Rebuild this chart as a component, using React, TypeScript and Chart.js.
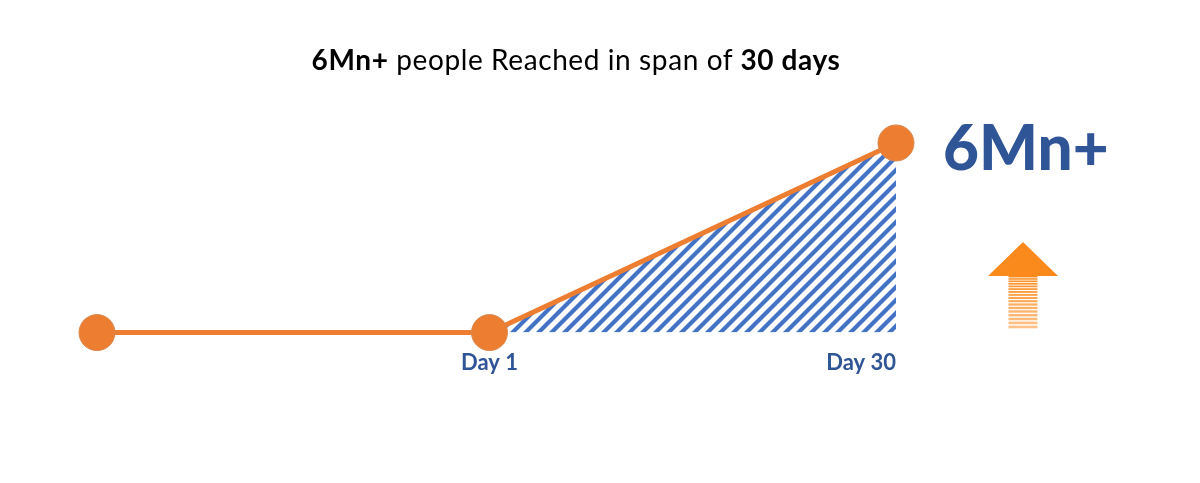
import React, { useEffect, useRef } from "react";
import { Chart, registerables } from "chart.js";

Chart.register(...registerables);

// ---- data ----
const dayPositions = [-27, 1, 30];
const reachMillions = [0, 0, 6];
const tickLabels = ["", "Day 1", "Day 30"];
const hatchDays = [1, 30];
const hatchReach = [0, 6];

const ORANGE = "#ED7D31";
const BLUE_TEXT = "#2F5597";
const HATCH_BLUE = "#4472C4";
const ARROW = "#FB8A1C";

function makeHatch(ctx: CanvasRenderingContext2D): CanvasPattern | string {
  const s = 13;
  const c = document.createElement("canvas");
  c.width = s;
  c.height = s;
  const g = c.getContext("2d");
  if (!g) return HATCH_BLUE;
  g.strokeStyle = HATCH_BLUE;
  g.lineWidth = 4.2;
  g.beginPath();
  g.moveTo(0, s);
  g.lineTo(s, 0);
  g.moveTo(-s / 2, s / 2);
  g.lineTo(s / 2, -s / 2);
  g.moveTo(s / 2, s * 1.5);
  g.lineTo(s * 1.5, s / 2);
  g.stroke();
  return ctx.createPattern(c, "repeat") || HATCH_BLUE;
}

const arrowPlugin = {
  id: "upArrow",
  afterDraw(chart: any) {
    const ctx: CanvasRenderingContext2D = chart.ctx;
    const cx = chart.chartArea.right + 127;
    const apexY = 242;
    const baseY = 276;
    const halfHead = 35;
    const halfShaft = 14.5;
    const bottomY = 327;
    ctx.save();
    ctx.fillStyle = ARROW;
    ctx.beginPath();
    ctx.moveTo(cx, apexY);
    ctx.lineTo(cx + halfHead, baseY);
    ctx.lineTo(cx - halfHead, baseY);
    ctx.closePath();
    ctx.fill();
    // striped, fading shaft
    let y = baseY;
    let step = 2.2;
    let alpha = 1;
    while (y < bottomY) {
      const h = Math.max(0.9, step * 0.65);
      ctx.globalAlpha = alpha;
      ctx.fillRect(cx - halfShaft, y, halfShaft * 2, h);
      y += step;
      step += 0.12;
      alpha = Math.max(0.35, alpha - 0.03);
    }
    ctx.restore();
  },
};

export default function App() {
  const canvasRef = useRef<HTMLCanvasElement | null>(null);

  useEffect(() => {
    const canvas = canvasRef.current;
    if (!canvas) return;
    const ctx = canvas.getContext("2d");
    if (!ctx) return;
    const hatch = makeHatch(ctx);

    const chart = new Chart(canvas, {
      type: "line",
      data: {
        datasets: [
          {
            label: "Reach",
            data: dayPositions.map((x, i) => ({ x, y: reachMillions[i] })),
            borderColor: ORANGE,
            borderWidth: 5,
            pointRadius: 18,
            pointBackgroundColor: ORANGE,
            pointBorderColor: "#D8894F",
            pointBorderWidth: 1,
            tension: 0,
            fill: false,
            clip: false,
            order: 0,
          },
          {
            label: "Area",
            data: hatchDays.map((x, i) => ({ x, y: hatchReach[i] })),
            borderWidth: 0,
            borderColor: "rgba(0,0,0,0)",
            backgroundColor: hatch as any,
            pointRadius: 0,
            fill: "origin",
            tension: 0,
            clip: false,
            order: 1,
          },
        ],
      },
      options: {
        animation: false,
        responsive: true,
        maintainAspectRatio: false,
        layout: { padding: { top: 143, left: 97, right: 304, bottom: 90 } },
        plugins: {
          legend: { display: false },
          tooltip: { enabled: false },
          title: { display: false },
        },
        scales: {
          x: {
            type: "linear",
            min: dayPositions[0],
            max: dayPositions[dayPositions.length - 1],
            grid: { display: false, drawTicks: false },
            border: { display: false },
            afterBuildTicks: (scale: any) => {
              scale.ticks = dayPositions.map((v) => ({ value: v }));
            },
            ticks: {
              align: "inner",
              padding: 17,
              color: BLUE_TEXT,
              font: { family: "Lato", size: 22, weight: "bold" },
              callback: (_v: any, i: number) => tickLabels[i],
              maxRotation: 0,
              autoSkip: false,
            },
          },
          y: {
            display: false,
            min: 0,
            max: 6,
          },
        },
      },
      plugins: [arrowPlugin],
    });
    return () => chart.destroy();
  }, []);

  return (
    <div
      style={{
        position: "absolute",
        left: 0,
        top: 0,
        width: 1200,
        height: 483,
        background: "#fff",
        fontFamily: "Lato, sans-serif",
      }}
    >
      <canvas ref={canvasRef} />
      <div
        style={{
          position: "absolute",
          left: 0,
          width: 1152,
          top: 45,
          textAlign: "center",
          fontSize: 28,
          lineHeight: "28px",
          letterSpacing: "0.6px",
          color: "#000",
          whiteSpace: "nowrap",
        }}
      >
        <b>6Mn+</b> people Reached in span of <b>30 days</b>
      </div>
      <div
        style={{
          position: "absolute",
          left: 943,
          top: 115,
          fontSize: 62,
          lineHeight: "62px",
          fontWeight: 900,
          color: BLUE_TEXT,
          whiteSpace: "nowrap",
        }}
      >
        6Mn+
      </div>
    </div>
  );
}
